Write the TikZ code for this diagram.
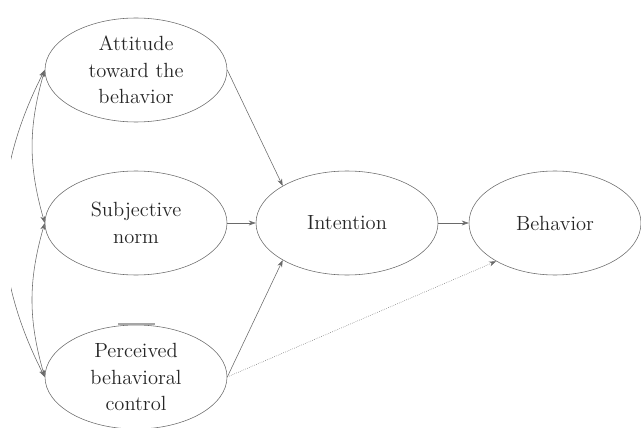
\documentclass[tikz,border=0pt]{standalone}
\usepackage{xcolor}
\usepackage{tikz}
\usetikzlibrary{
  arrows.meta,
  positioning,
  shapes.geometric,
}
\definecolor{linegray}{HTML}{6A6A6A}
\definecolor{textgray}{HTML}{262626}

\begin{document}
\begin{tikzpicture}[
    construct/.style={ellipse, draw=linegray, thin, inner sep=0pt,
      minimum width=4.55cm, minimum height=2.6cm, align=center,
      text=textgray, font=\fontsize{14.6}{19}\selectfont},
    path/.style={draw=linegray, thin, -{Stealth[length=5pt, width=3.5pt]}},
    corr/.style={draw=linegray, thin, {Stealth[length=5pt, width=3.5pt]}-{Stealth[length=5pt, width=3.5pt]}},
  ]
  \useasboundingbox (0,0) rectangle (16.025,10.675);

  \node[construct] (att) at (3.4,8.925) {Attitude\\toward the\\behavior};
  \node[construct] (sub) at (3.4,5.1)   {Subjective\\norm};
  \node[construct] (per) at (3.4,1.25)  {Perceived\\behavioral\\control};
  \node[construct] (int) at (8.675,5.1) {Intention};
  \node[construct, minimum width=4.3cm] (beh) at (13.875,5.1) {Behavior};

  \draw[path] (att.east) -- (int.150);
  \draw[path] (sub.east) -- (int.west);
  \draw[path] (per.east) -- (int.210);
  \draw[path] (int.east) -- (beh.west);
  \draw[path, densely dotted] (per.east) -- (beh.213);

  \draw[corr] (att.west) to[bend right=16] (sub.west);
  \draw[corr] (sub.west) to[bend right=16] (per.west);
  \begin{scope}
    \clip (0.28,0) rectangle (16.025,10.675);
    \draw[corr] (att.west) to[bend right=27] (per.west);
  \end{scope}

  \draw[gray!70, line width=1.2pt] (2.95,2.575) -- (3.875,2.575);
\end{tikzpicture}
\end{document}
